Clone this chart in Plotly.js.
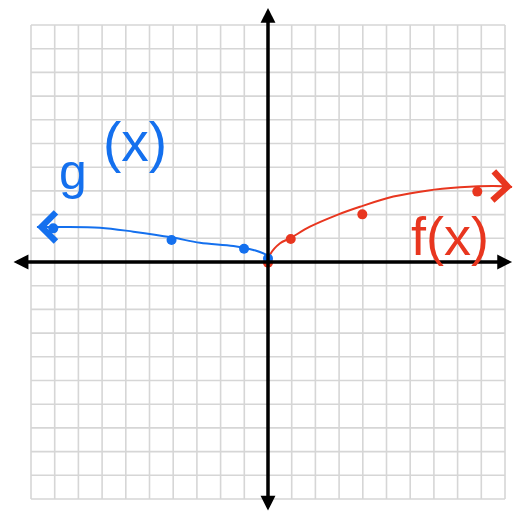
<!DOCTYPE html>
<html>
<head>
<meta charset="utf-8">
<script src="https://cdn.plot.ly/plotly-3.0.1.min.js"></script>
<style>html,body{margin:0;padding:0;background:#fff;}#chart{width:515px;height:517px;}</style>
</head>
<body>
<div id="chart"></div>
<script>
// g(x): hand-drawn curve on the left (blue)
const gCurveX = [-9.75, -8.78, -7.09, -5.68, -4.06, -2.87, -1.46, -0.62, -0.05, 0];
const gCurveY = [1.48, 1.48, 1.45, 1.28, 1.04, 0.81, 0.68, 0.51, 0.28, 0.13];
const gDotX = [-9.06, -4.07, -1.01, 0];
const gDotY = [1.42, 0.93, 0.56, 0.15];
// f(x): hand-drawn curve on the right (red)
const fCurveX = [0, 0.08, 0.51, 0.93, 1.77, 2.90, 3.88, 5.29, 6.70, 8.10, 9.51, 10.30];
const fCurveY = [0, 0.30, 0.79, 1.00, 1.49, 1.98, 2.33, 2.76, 3.01, 3.15, 3.21, 3.17];
const fDotX = [0, 0.96, 3.98, 8.83];
const fDotY = [-0.03, 0.97, 2.01, 2.97];
// grid
const gridTicks = [-10,-9,-8,-7,-6,-5,-4,-3,-2,-1,0,1,2,3,4,5,6,7,8,9,10];
const labels = {g: ['g', '(x)'], f: 'f(x)'};

const BLUE = '#1470ee';
const RED = '#e8361f';

const shapes = [];
gridTicks.forEach(t => {
  shapes.push({type:'line', xref:'x', yref:'y', x0:t, x1:t, y0:-10, y1:10, line:{color:'#d6d6d6', width:1.6}, layer:'below'});
  shapes.push({type:'line', xref:'x', yref:'y', x0:-10, x1:10, y0:t, y1:t, line:{color:'#d6d6d6', width:1.6}, layer:'below'});
});

const traces = [
  {x: fCurveX, y: fCurveY, mode:'lines', line:{color:RED, width:2, shape:'spline', smoothing:1}, hoverinfo:'skip'},
  {x: fDotX, y: fDotY, mode:'markers', marker:{color:RED, size:10, opacity:1, line:{width:0}}, hoverinfo:'skip'},
  {x: gCurveX, y: gCurveY, mode:'lines', line:{color:BLUE, width:2, shape:'spline', smoothing:1}, hoverinfo:'skip'},
  {x: gDotX, y: gDotY, mode:'markers', marker:{color:BLUE, size:10, opacity:1, line:{width:0}}, hoverinfo:'skip'}
];

const nF = fCurveX.length, nG = gCurveX.length;
const annotations = [
  // x axis
  {xref:'x', yref:'y', axref:'x', ayref:'y', x:10.30, y:0, ax:-10.80, ay:0, text:'', showarrow:true,
   arrowside:'end+start', arrowhead:2, arrowsize:0.85, arrowwidth:3.5, arrowcolor:'#000', standoff:0, startstandoff:0},
  // y axis
  {xref:'x', yref:'y', axref:'x', ayref:'y', x:0, y:10.72, ax:0, ay:-10.55, text:'', showarrow:true,
   arrowside:'end+start', arrowhead:2, arrowsize:0.85, arrowwidth:3.5, arrowcolor:'#000', standoff:0, startstandoff:0},
  // curve arrowheads
  {xref:'x', yref:'y', axref:'x', ayref:'y', x:fCurveX[nF-1], y:fCurveY[nF-1], ax:fCurveX[nF-2], ay:fCurveY[nF-2], text:'', showarrow:true,
   arrowhead:4, arrowsize:4, arrowwidth:1.4, arrowcolor:RED, standoff:0},
  {xref:'x', yref:'y', axref:'x', ayref:'y', x:gCurveX[0], y:gCurveY[0], ax:gCurveX[1], ay:gCurveY[1], text:'', showarrow:true,
   arrowhead:4, arrowsize:4, arrowwidth:1.4, arrowcolor:BLUE, standoff:0},
  // labels
  {xref:'x', yref:'y', x:-8.23, y:3.80, text:labels.g[0], showarrow:false, font:{family:'Liberation Sans', size:50, color:BLUE}},
  {xref:'x', yref:'y', x:-5.61, y:5.06, text:labels.g[1], showarrow:false, font:{family:'Liberation Sans', size:55, color:BLUE}},
  {xref:'x', yref:'y', x:7.68, y:1.10, text:labels.f, showarrow:false, font:{family:'Liberation Sans', size:54, color:RED}}
];

const layout = {
  width:515, height:517,
  margin:{l:0, r:0, t:0, b:0},
  paper_bgcolor:'#fff', plot_bgcolor:'#fff',
  showlegend:false,
  xaxis:{range:[-11.308, 10.422], showgrid:false, zeroline:false, showticklabels:false, ticks:'', showline:false, fixedrange:true},
  yaxis:{range:[-10.759, 11.055], showgrid:false, zeroline:false, showticklabels:false, ticks:'', showline:false, fixedrange:true},
  shapes: shapes,
  annotations: annotations
};

Plotly.newPlot('chart', traces, layout, {displayModeBar:false, staticPlot:true});
</script>
</body>
</html>
